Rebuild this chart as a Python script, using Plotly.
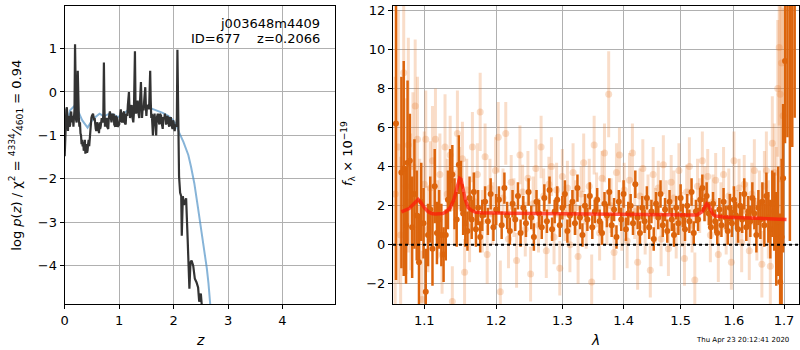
import plotly.graph_objects as go

# ---------------- left panel: log p(z) ----------------
pz_z = [0.00, 0.01, 0.02, 0.03, 0.04, 0.05, 0.06, 0.07, 0.08, 0.09, 0.10, 0.11, 0.12, 0.13, 0.14,
        0.15, 0.16, 0.17, 0.18, 0.19, 0.20, 0.21, 0.22, 0.23, 0.24, 0.25, 0.26, 0.27, 0.28, 0.29,
        0.30, 0.31, 0.32, 0.33, 0.34, 0.35, 0.36, 0.37, 0.38, 0.39, 0.40, 0.41, 0.42, 0.43, 0.44,
        0.45, 0.46, 0.47, 0.48, 0.49, 0.50, 0.52, 0.54, 0.55, 0.57, 0.58, 0.59, 0.60, 0.61, 0.62,
        0.63, 0.64, 0.65, 0.66, 0.68, 0.70, 0.71, 0.72, 0.73, 0.74, 0.75, 0.77, 0.78, 0.80, 0.81,
        0.83, 0.84, 0.86, 0.87, 0.88, 0.90, 0.91, 0.93, 0.94, 0.96, 0.97, 1.00, 1.01, 1.03, 1.04,
        1.06, 1.07, 1.09, 1.10, 1.12, 1.13, 1.15, 1.16, 1.18, 1.19, 1.20, 1.21, 1.23, 1.24, 1.26,
        1.27, 1.29, 1.30, 1.31, 1.32, 1.34, 1.35, 1.37, 1.38, 1.40, 1.41, 1.42, 1.43, 1.45, 1.46,
        1.48, 1.49, 1.50, 1.51, 1.53, 1.55, 1.57, 1.58, 1.59, 1.60, 1.62, 1.63, 1.65, 1.66, 1.68,
        1.69, 1.71, 1.72, 1.74, 1.75, 1.77, 1.78, 1.80, 1.81, 1.83, 1.84, 1.86, 1.87, 1.89, 1.90,
        1.92, 1.93, 1.95, 1.96, 1.98, 1.99, 2.00, 2.02, 2.03, 2.05, 2.06, 2.07, 2.08, 2.09, 2.10,
        2.12, 2.14, 2.15, 2.17, 2.19, 2.21, 2.23, 2.26, 2.29, 2.31, 2.33, 2.36, 2.39, 2.42, 2.45,
        2.47, 2.50, 2.52, 2.54, 2.56]
pz_logp = [-1.48, -1.0, -0.9, -0.4, -0.35, -0.7, -0.9, -0.6, -0.55, -0.8, -0.75, -0.5, -0.45, -0.7, -0.65,
           -0.55, -0.8, -0.45, -0.4, 1.10, -0.5, -0.65, -0.7, -0.4, 0.49, -0.5, -0.6, -0.8, -0.7, -0.95,
           -1.0, -1.2, -1.1, -1.25, -1.15, -1.35, -1.3, -1.1, -1.42, -1.3, -1.2, -1.4, -1.35, -1.2, -1.1,
           -1.25, -1.0, -0.8, -0.7, -0.6, -0.55, -0.5, -0.65, -0.6, -0.85, -0.9, -0.7, -0.75, -0.9, -0.8,
           -0.95, -0.7, -0.85, -0.8, -0.6, -0.7, -0.5, 0.68, -0.4, -0.8, -0.65, -0.6, -0.8, -0.85, -0.6,
           -0.45, -0.55, -0.7, -0.5, -0.65, -0.5, -0.75, -0.8, -0.55, -0.6, -0.8, -0.75, -0.55, -0.4, -0.65,
           -0.7, -0.5, -0.45, -0.7, -0.75, -0.5, -0.55, -0.3, 0.0, -0.4, -0.6, -0.45, -0.3, -0.55, -0.7,
           -0.5, 0.94, -0.2, -0.5, -0.35, -0.2, -0.45, -0.6, -0.3, 0.23, -0.2, -0.6, -0.4, -0.4, -0.2,
           0.11, -0.3, -0.55, -0.35, -0.3, -0.4, 0.49, -0.2, -0.6, -0.5, -1.0, -0.6, -0.5, -0.7, -1.0,
           -0.6, -0.5, -0.65, -0.75, -0.5, -0.55, -0.7, -0.85, -0.6, -0.6, -0.5, -0.75, -0.6, -0.55, -0.7,
           -0.8, -0.6, -0.6, -0.75, -0.85, -0.65, -0.7, -0.9, -0.75, -0.8, -0.6, 0.97, -0.2, -1.0, -1.94,
           -2.32, -2.4, -3.31, -2.4, -2.6, -2.5, -2.45, -3.46, -4.53, -3.92, -3.88, -4.0, -4.3, -4.38, -4.5,
           -4.83, -4.64, -4.95, -5.2, -5.5]

prior_z = [0.0, 0.05, 0.10, 0.18, 0.25, 0.32, 0.42, 0.52, 0.64, 0.72, 0.82, 0.90, 0.98, 1.08, 1.18,
           1.29, 1.40, 1.55, 1.68, 1.80, 1.90, 1.98, 2.05, 2.10, 2.18, 2.27, 2.32, 2.38, 2.44, 2.49,
           2.53, 2.57, 2.61, 2.64, 2.67, 2.70]
prior_logp = [-0.9, -0.65, -0.42, -0.32, -0.45, -0.65, -0.82, -0.62, -0.50, -0.56, -0.50, -0.52, -0.58, -0.50, -0.40,
              -0.35, -0.33, -0.36, -0.42, -0.48, -0.55, -0.63, -0.76, -0.93, -1.15, -1.45, -1.72, -2.10, -2.60, -3.00,
              -3.38, -3.72, -4.06, -4.40, -4.86, -5.3]

# ---------------- right panel: spectrum ----------------
dark_lam = [1.063, 1.070, 1.073, 1.076, 1.078, 1.081, 1.084, 1.087, 1.090, 1.093, 1.096, 1.099, 1.102, 1.105,
            1.108, 1.111, 1.114, 1.117, 1.120, 1.123, 1.126, 1.129, 1.132, 1.135, 1.138, 1.141, 1.144, 1.147,
            1.150, 1.153, 1.156, 1.159, 1.162, 1.165, 1.168, 1.171, 1.174, 1.177, 1.180, 1.184, 1.188, 1.192,
            1.196, 1.200, 1.204, 1.208, 1.212, 1.216, 1.220, 1.224, 1.228, 1.232, 1.236, 1.240, 1.244, 1.248,
            1.252, 1.256, 1.260, 1.264, 1.268, 1.272, 1.276, 1.280, 1.284, 1.288, 1.292, 1.296, 1.300, 1.304,
            1.308, 1.312, 1.316, 1.320, 1.324, 1.328, 1.332, 1.336, 1.340, 1.344, 1.348, 1.352, 1.356, 1.360,
            1.364, 1.368, 1.372, 1.376, 1.380, 1.384, 1.388, 1.392, 1.396, 1.400, 1.404, 1.408, 1.412, 1.416,
            1.420, 1.424, 1.428, 1.432, 1.436, 1.440, 1.444, 1.448, 1.452, 1.456, 1.460, 1.464, 1.468, 1.472,
            1.476, 1.480, 1.484, 1.488, 1.492, 1.496, 1.500, 1.504, 1.508, 1.512, 1.516, 1.520, 1.524, 1.528,
            1.532, 1.536, 1.540, 1.544, 1.548, 1.552, 1.556, 1.560, 1.564, 1.568, 1.572, 1.576, 1.580, 1.584,
            1.588, 1.592, 1.596, 1.600, 1.604, 1.608, 1.612, 1.616, 1.620, 1.624, 1.628, 1.632, 1.636, 1.640,
            1.644, 1.648, 1.652, 1.656, 1.660, 1.664, 1.668, 1.672, 1.676, 1.680, 1.684, 1.688, 1.692, 1.695,
            1.698, 1.702, 1.707, 1.712, 1.717, 1.722]
dark_flux = [6.2, 3.7, 3.9, 1.0, 4.2, 4.3, 0.9, 2.6, 1.5, -0.9, 2.2, 1.1, -2.4, 0.5,
             1.8, -0.2, 3.0, 0.6, 1.3, 0.5, -0.5, 0.5, 2.3, 3.3, 3.6, 2.1, 1.3, 4.1,
             3.0, 1.6, 1.1, 0.7, 2.4, 1.3, 2.7, 0.8, 1.9, 0.4, 1.5, 2.2, 1.2, 2.6,
             0.9, 1.8, 2.3, 1.0, 2.9, 1.5, 0.7, 2.1, 1.3, 2.5, 0.6, 1.9, 1.1, 2.7,
             1.4, 0.4, 2.2, 1.6, 0.9, 2.4, 1.2, 2.8, 0.8, 1.7, 2.3, 1.0, 1.9, 2.6,
             0.7, 1.5, 2.2, 1.1, 2.9, 1.4, 0.5, 2.0, 1.3, 2.5, 0.9, 1.7, 2.3, 1.2,
             0.6, 2.1, 1.5, 2.7, 1.0, 1.8, 0.4, 2.2, 1.3, 2.6, 0.8, 1.6, 2.0, 1.1,
             3.1, 1.4, 0.6, 1.9, 1.2, 2.4, 0.9, 1.7, 0.3, 2.1, 1.4, 2.6, 1.0, 1.8,
             0.7, 2.2, 1.3, 0.5, 1.9, 1.1, 2.4, 1.5, 0.8, 2.0, 1.2, 2.7, 0.6, 1.7,
             1.3, 2.3, 2.9, 1.8, 2.5, 1.6, 0.9, 2.1, 1.2, 0.6, 1.8, 1.0, 2.2, 1.4,
             0.7, 1.9, 1.1, 2.3, 1.5, 0.8, 2.0, 1.3, 2.6, 0.9, 1.7, 1.2, 2.4, 1.6,
             0.5, 1.9, 1.3, 2.2, 1.0, 2.5, 1.4, 0.8, 2.1, 1.7, 0.3, 1.2, -1.9, 0.4,
             3.4, 9.4, 14.0, 13.0, 15.0, 16.0]
dark_err = [8.0, 4.9, 5.5, 3.0, 4.2, 2.4, 2.6, 2.8, 2.3, 2.5, 2.0, 1.8, 2.2, 1.6,
            1.7, 1.9, 1.9, 1.6, 1.5, 1.6, 1.4, 1.3, 1.5, 1.6, 1.5, 1.3, 1.4, 1.5,
            1.3, 1.1, 1.2, 1.0, 1.1, 1.0, 1.0, 0.9, 0.9, 0.8, 0.8, 0.8, 0.7, 0.8,
            0.7, 0.8, 0.7, 0.7, 0.8, 0.7, 0.7, 0.7, 0.6, 0.7, 0.7, 0.6, 0.7, 0.7,
            0.6, 0.7, 0.6, 0.7, 0.6, 0.7, 0.6, 0.7, 0.6, 0.6, 0.7, 0.6, 0.6, 0.7,
            0.6, 0.6, 0.6, 0.6, 0.7, 0.6, 0.6, 0.6, 0.6, 0.7, 0.6, 0.6, 0.6, 0.6,
            0.6, 0.6, 0.6, 0.7, 0.6, 0.6, 0.6, 0.6, 0.6, 0.7, 0.6, 0.6, 0.6, 0.6,
            0.7, 0.6, 0.6, 0.6, 0.6, 0.6, 0.6, 0.6, 0.6, 0.6, 0.6, 0.7, 0.6, 0.6,
            0.6, 0.6, 0.6, 0.6, 0.6, 0.6, 0.7, 0.6, 0.6, 0.6, 0.6, 0.7, 0.6, 0.6,
            0.6, 0.6, 0.7, 0.6, 0.7, 0.6, 0.6, 0.6, 0.6, 0.6, 0.6, 0.6, 0.7, 0.6,
            0.7, 0.7, 0.7, 0.7, 0.7, 0.7, 0.7, 0.7, 0.8, 0.7, 0.8, 0.8, 0.8, 0.8,
            0.9, 0.9, 1.0, 1.0, 1.1, 1.2, 1.3, 1.5, 1.7, 2.0, 2.4, 2.8, 3.5, 4.0,
            3.8, 4.2, 8.5, 12.8, 10.0, 9.5]

light_lam = [1.062, 1.066, 1.069, 1.073, 1.076, 1.079, 1.082, 1.085, 1.088, 1.091, 1.094, 1.097, 1.100, 1.102,
             1.105, 1.108, 1.111, 1.115, 1.118, 1.121, 1.124, 1.128, 1.131, 1.135, 1.138, 1.141, 1.145, 1.148,
             1.152, 1.155, 1.158, 1.162, 1.166, 1.169, 1.173, 1.177, 1.180, 1.184, 1.187, 1.191, 1.195, 1.199,
             1.203, 1.206, 1.210, 1.214, 1.218, 1.222, 1.226, 1.230, 1.235, 1.239, 1.243, 1.247, 1.251, 1.255,
             1.259, 1.263, 1.267, 1.271, 1.275, 1.279, 1.283, 1.287, 1.291, 1.296, 1.300, 1.304, 1.308, 1.312,
             1.317, 1.321, 1.325, 1.330, 1.334, 1.338, 1.343, 1.347, 1.351, 1.355, 1.360, 1.364, 1.368, 1.372,
             1.375, 1.379, 1.384, 1.388, 1.393, 1.397, 1.401, 1.406, 1.410, 1.415, 1.419, 1.424, 1.428, 1.433,
             1.437, 1.442, 1.446, 1.451, 1.455, 1.460, 1.465, 1.469, 1.474, 1.478, 1.483, 1.488, 1.492, 1.497,
             1.502, 1.507, 1.511, 1.516, 1.521, 1.526, 1.531, 1.535, 1.540, 1.545, 1.550, 1.555, 1.560, 1.565,
             1.570, 1.575, 1.580, 1.585, 1.590, 1.595, 1.600, 1.605, 1.610, 1.615, 1.620, 1.625, 1.630, 1.635,
             1.640, 1.645, 1.650, 1.655, 1.660, 1.664, 1.668, 1.672, 1.676, 1.680, 1.684, 1.687, 1.690, 1.692,
             1.695, 1.698]
light_flux = [2.6, 5.0, 0.5, 8.8, 3.0, 5.1, 2.2, 4.0, 7.1, 5.4, 1.8, -2.8, 3.1, 5.4,
              0.8, 2.9, 4.3, 5.4, 1.3, 3.6, -0.5, 5.0, 2.6, 4.6, -2.9, 1.9, 5.7, 3.4,
              4.4, -1.4, 2.8, 0.9, 5.0, 2.2, 3.6, 6.8, 1.2, 4.5, -0.5, 2.9, 1.6, 3.8,
              5.5, -2.4, 2.4, 5.7, 0.3, 3.2, 1.9, -0.8, 4.6, 2.7, 0.8, 3.4, -1.5, 2.1,
              3.9, 1.0, 5.0, 2.5, -0.3, 3.1, 4.0, 0.4, 2.8, -1.2, 3.5, 1.6, 2.9, 0.0,
              3.7, 1.9, -0.6, 2.6, 4.2, 1.2, 3.0, -1.9, 5.1, 2.3, 0.6, 3.4, 4.7, 1.4,
              7.7, 2.0, -0.4, 3.7, 4.6, 1.1, 2.8, 0.2, 3.3, 4.7, 1.7, -0.9, 2.5, 3.9,
              0.9, 2.2, -1.3, 3.6, 1.5, 2.9, 0.3, 4.1, 1.9, -0.2, 3.2, 2.4, 0.7, 3.8,
              1.3, -0.7, 2.7, 4.0, 1.0, -1.8, 3.0, 2.0, 4.3, 2.6, 3.5, 0.5, 2.2, 3.3,
              -0.5, 1.8, 3.6, 0.9, 2.5, -0.9, 4.3, 1.4, 2.9, 0.1, 3.1, 1.7, -0.3, 2.6,
              3.8, 0.8, 2.1, -1.0, 3.0, 3.8, 1.3, -1.1, 5.2, 3.7, 2.0, 8.0, 10.1, 7.7,
              9.3, 6.6]
light_err = [6.0, 7.0, 4.0, 5.0, 4.5, 5.5, 3.5, 3.8, 3.4, 3.2, 2.6, 2.5, 2.7, 2.5,
             2.2, 2.4, 2.8, 2.6, 2.0, 2.1, 2.0, 2.7, 1.8, 2.0, 1.8, 1.9, 2.2, 1.6,
             1.9, 1.7, 1.6, 1.8, 1.8, 1.5, 1.6, 2.0, 1.6, 1.7, 1.5, 1.5, 1.6, 1.7,
             1.8, 1.6, 1.5, 1.6, 1.5, 1.4, 1.5, 1.4, 1.5, 1.4, 1.4, 1.4, 1.4, 1.4,
             1.5, 1.4, 1.6, 1.4, 1.4, 1.4, 1.5, 1.4, 1.4, 1.4, 1.4, 1.4, 1.4, 1.4,
             1.5, 1.4, 1.4, 1.4, 1.5, 1.4, 1.4, 1.4, 1.5, 1.4, 1.4, 1.4, 1.5, 1.4,
             2.2, 1.4, 1.4, 1.5, 1.4, 1.4, 1.4, 1.4, 1.4, 1.5, 1.4, 1.4, 1.4, 1.5,
             1.4, 1.4, 1.4, 1.4, 1.4, 1.4, 1.4, 1.5, 1.4, 1.4, 1.4, 1.4, 1.4, 1.4,
             1.4, 1.4, 1.4, 1.5, 1.4, 1.4, 1.4, 1.4, 1.5, 1.4, 1.4, 1.4, 1.4, 1.4,
             1.4, 1.4, 1.4, 1.4, 1.4, 1.4, 1.5, 1.4, 1.5, 1.5, 1.5, 1.5, 1.5, 1.6,
             1.6, 1.6, 1.7, 1.7, 1.8, 2.0, 2.0, 2.2, 2.4, 2.5, 3.0, 3.5, 4.0, 4.5,
             5.0, 5.5]

model_lam = [1.070, 1.075, 1.080, 1.085, 1.090, 1.092, 1.095, 1.100, 1.105, 1.110, 1.115, 1.120, 1.125,
             1.130, 1.135, 1.140, 1.143, 1.146, 1.148, 1.150, 1.153, 1.156, 1.160, 1.165, 1.170, 1.175,
             1.180, 1.200, 1.250, 1.300, 1.350, 1.400, 1.450, 1.500, 1.520, 1.530, 1.540, 1.545, 1.548,
             1.552, 1.556, 1.560, 1.565, 1.570, 1.580, 1.600, 1.650, 1.705]
model_flux = [1.68, 1.75, 1.85, 2.05, 2.28, 2.32, 2.20, 1.90, 1.70, 1.60, 1.57, 1.57, 1.60,
              1.70, 1.90, 2.30, 2.70, 3.20, 3.40, 3.35, 2.90, 2.30, 1.90, 1.75, 1.67, 1.64,
              1.63, 1.62, 1.60, 1.57, 1.55, 1.53, 1.51, 1.49, 1.49, 1.52, 1.70, 1.95, 2.10,
              2.00, 1.75, 1.55, 1.47, 1.44, 1.42, 1.40, 1.36, 1.30]

z_ticks = [0, 1, 2, 3, 4]
logp_ticks = [1, 0, -1, -2, -3, -4]
lam_ticks = [1.1, 1.2, 1.3, 1.4, 1.5, 1.6, 1.7]
flux_ticks = [-2, 0, 2, 4, 6, 8, 10, 12]

DARK = "#dc640c"
LIGHT = "rgba(232,125,45,0.26)"
FONT = "DejaVu Sans"

fig = go.Figure()

fig.add_trace(go.Scatter(x=prior_z, y=prior_logp, mode="lines",
                         line=dict(color="rgba(70,140,195,0.65)", width=2),
                         xaxis="x", yaxis="y", showlegend=False))
fig.add_trace(go.Scatter(x=pz_z, y=pz_logp, mode="lines",
                         line=dict(color="#333333", width=2.2),
                         xaxis="x", yaxis="y", showlegend=False))

fig.add_trace(go.Scatter(x=light_lam, y=light_flux, mode="markers",
                         marker=dict(color=LIGHT, size=7),
                         error_y=dict(type="data", array=light_err, thickness=3, width=0, color=LIGHT),
                         xaxis="x2", yaxis="y2", showlegend=False))
fig.add_trace(go.Scatter(x=dark_lam, y=dark_flux, mode="markers",
                         marker=dict(color=DARK, size=6),
                         error_y=dict(type="data", array=dark_err, thickness=2.5, width=0, color=DARK),
                         xaxis="x2", yaxis="y2", showlegend=False))
fig.add_trace(go.Scatter(x=model_lam, y=model_flux, mode="lines",
                         line=dict(color="rgba(255,25,10,0.72)", width=3.5),
                         xaxis="x2", yaxis="y2", showlegend=False))

ydom = [1 - 304 / 350, 1 - 3 / 350]
axis_common = dict(showline=True, mirror=True, linecolor="black", linewidth=1.2,
                   ticks="outside", ticklen=4, tickcolor="black",
                   showgrid=True, gridcolor="#b0b0b0", gridwidth=1, zeroline=False,
                   ticklabeloverflow="allow",
                   tickfont=dict(family=FONT, size=13, color="black"))

fig.update_layout(
    width=800, height=350,
    margin=dict(l=0, r=0, t=0, b=0),
    paper_bgcolor="white", plot_bgcolor="white",
    font=dict(family=FONT, size=13, color="black"),
    xaxis=dict(domain=[61 / 800, 333 / 800], range=[0, 4.97], tickvals=z_ticks,
               anchor="y", **axis_common),
    yaxis=dict(domain=ydom, range=[-4.89, 1.98], tickvals=logp_ticks,
               ticktext=["1", "0", "\u22121", "\u22122", "\u22123", "\u22124"],
               anchor="x", **axis_common),
    xaxis2=dict(domain=[391 / 800, 799 / 800], type="log", range=[0.02499, 0.2383],
                tickvals=lam_ticks, ticktext=[str(v) for v in lam_ticks],
                anchor="y2", **axis_common),
    yaxis2=dict(domain=ydom, range=[-3.05, 12.22], tickvals=flux_ticks,
                ticktext=["\u22122", "0", "2", "4", "6", "8", "10", "12"],
                anchor="x2", **axis_common),
    shapes=[dict(type="line", xref="x2 domain", yref="y2", x0=0, x1=1, y0=0, y1=0,
                 line=dict(color="black", width=2, dash="dot"), layer="above")],
    annotations=[
        dict(text="j003648m4409", xref="paper", yref="paper", x=320 / 800, y=1 - 21 / 350,
             xanchor="right", yanchor="middle", showarrow=False, font=dict(size=13)),
        dict(text="ID=677\u00a0\u00a0\u00a0\u00a0z=0.2066", xref="paper", yref="paper",
             x=320 / 800, y=1 - 36 / 350, xanchor="right", yanchor="middle", showarrow=False,
             font=dict(size=13)),
        dict(text="log <i>p</i>(<i>z</i>) / \u03c7<sup>2</sup> = <sup>4334</sup>\u2044<sub>4601</sub> = 0.94",
             xref="paper", yref="paper", x=12 / 800, y=1 - 153 / 350, textangle=-90,
             xanchor="center", yanchor="middle", showarrow=False, font=dict(size=13)),
        dict(text="<i>z</i>", xref="paper", yref="paper", x=197 / 800, y=1 - 340 / 350,
             xanchor="center", yanchor="middle", showarrow=False, font=dict(size=14)),
        dict(text="<i>f</i><sub>\u03bb</sub> \u00d7 10<sup>\u221219</sup>", xref="paper", yref="paper",
             x=345 / 800, y=1 - 152 / 350, textangle=-90,
             xanchor="center", yanchor="middle", showarrow=False, font=dict(size=13)),
        dict(text="<i>\u03bb</i>", xref="paper", yref="paper", x=594 / 800, y=1 - 340 / 350,
             xanchor="center", yanchor="middle", showarrow=False, font=dict(size=14)),
        dict(text="Thu Apr 23 20:12:41 2020", xref="paper", yref="paper", x=742 / 800, y=1 - 340 / 350,
             xanchor="center", yanchor="middle", showarrow=False, font=dict(size=7)),
    ],
)

fig.write_html("out.html", config={"displayModeBar": False},
               post_script="document.body.style.margin='0px';document.body.style.overflow='hidden';")
